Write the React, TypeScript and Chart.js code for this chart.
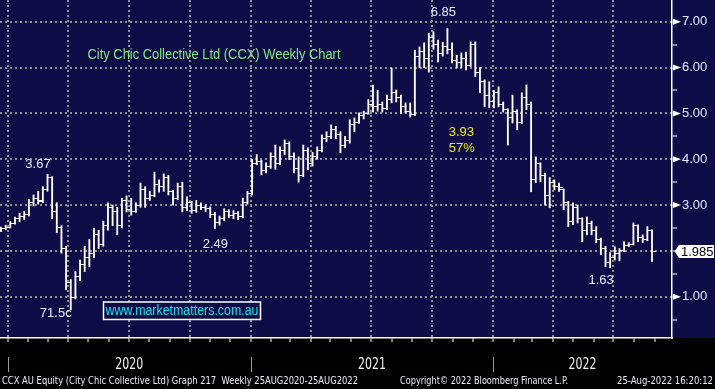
import React, { useEffect, useRef } from 'react';
import { Chart, registerables } from 'chart.js';

Chart.register(...registerables);

// ---------- data (weekly bars, first bar week of 22 Dec 2019) ----------
const firstBarDate = Date.UTC(2019, 11, 22);

const opens = [
  2.45, 2.48, 2.52, 2.60, 2.70, 2.74, 2.80, 3.05, 3.15, 3.10,
  3.35, 3.60, 2.85, 2.50, 2.05, 1.30, 0.98, 1.45, 1.70, 1.85,
  1.95, 2.35, 2.15, 2.55, 2.95, 2.85, 2.55, 3.10, 2.90, 2.85,
  2.98, 3.35, 3.15, 3.20, 3.45, 3.40, 3.60, 3.30, 3.15, 3.40,
  2.95, 3.05, 2.88, 3.00, 2.95, 2.92, 2.80, 2.62, 2.70, 2.85,
  2.78, 2.82, 2.75, 3.05, 3.25, 3.90, 3.95, 3.75, 3.85, 4.05,
  3.90, 4.20, 4.35, 4.05, 3.80, 3.65, 4.20, 3.90, 4.05, 4.20,
  4.45, 4.50, 4.65, 4.55, 4.30, 4.40, 4.75, 4.80, 4.95, 5.00,
  5.20, 5.15, 5.20, 5.10, 5.30, 5.45, 5.35, 5.15, 5.05, 4.98,
  6.25, 6.35, 6.20, 6.65, 6.50, 6.30, 6.45, 6.40, 6.15, 6.10,
  6.20, 6.05, 6.50, 5.90, 5.70, 5.40, 5.25, 5.45, 5.20, 5.08,
  4.90, 5.05, 4.80, 5.35, 5.20, 3.55, 3.90, 3.65, 3.20, 3.50,
  3.40, 3.33, 3.05, 2.65, 2.95, 2.70, 2.45, 2.60, 2.45, 2.25,
  2.05, 1.75, 1.85, 1.95, 2.00, 2.12, 2.15, 2.55, 2.30, 2.25, 2.45,
];
const highs = [
  2.52, 2.56, 2.64, 2.74, 2.82, 2.86, 3.12, 3.22, 3.30, 3.40,
  3.67, 3.62, 3.05, 2.55, 2.10, 1.38, 1.55, 1.80, 2.10, 2.25,
  2.50, 2.45, 2.65, 3.05, 3.00, 2.95, 3.15, 3.20, 3.15, 3.05,
  3.48, 3.40, 3.30, 3.72, 3.55, 3.68, 3.65, 3.32, 3.48, 3.50,
  3.18, 3.08, 3.10, 3.05, 3.00, 2.96, 2.84, 2.76, 2.92, 2.90,
  2.88, 2.86, 3.15, 3.30, 4.00, 4.10, 3.98, 3.92, 4.14, 4.31,
  4.27, 4.42, 4.38, 4.14, 4.05, 4.31, 4.25, 4.15, 4.27, 4.53,
  4.60, 4.75, 4.72, 4.60, 4.50, 4.86, 4.90, 5.01, 5.05, 5.30,
  5.62, 5.50, 5.25, 5.40, 5.99, 5.51, 5.40, 5.23, 5.23, 6.38,
  6.45, 6.54, 6.75, 6.78, 6.60, 6.55, 6.85, 6.54, 6.27, 6.32,
  6.34, 6.56, 6.56, 6.00, 5.73, 5.69, 5.50, 5.58, 5.25, 5.10,
  5.40, 5.08, 5.45, 5.62, 5.25, 4.05, 3.92, 3.70, 3.60, 3.55,
  3.48, 3.35, 3.08, 3.05, 3.00, 2.72, 2.74, 2.65, 2.53, 2.28,
  2.10, 1.96, 2.09, 2.05, 2.20, 2.18, 2.61, 2.57, 2.35, 2.53, 2.46,
];
const lows = [
  2.42, 2.46, 2.50, 2.58, 2.64, 2.68, 2.76, 2.98, 3.02, 3.05,
  3.30, 2.70, 2.40, 1.95, 1.15, 0.715, 0.95, 1.35, 1.55, 1.65,
  1.85, 2.05, 2.10, 2.45, 2.55, 2.35, 2.50, 2.85, 2.78, 2.84,
  2.95, 2.95, 3.10, 3.18, 3.28, 3.30, 3.22, 3.00, 3.12, 2.85,
  2.88, 2.82, 2.84, 2.90, 2.86, 2.72, 2.49, 2.56, 2.66, 2.72,
  2.70, 2.68, 2.72, 3.02, 3.22, 3.88, 3.66, 3.70, 3.80, 3.78,
  3.88, 4.10, 3.99, 3.70, 3.50, 3.62, 3.77, 3.85, 4.00, 4.16,
  4.38, 4.45, 4.45, 4.14, 4.25, 4.35, 4.60, 4.78, 4.88, 4.98,
  5.03, 5.05, 5.03, 5.08, 5.23, 5.25, 5.00, 5.01, 4.92, 4.95,
  6.00, 6.00, 5.90, 6.40, 6.12, 6.25, 6.30, 6.10, 5.99, 6.00,
  5.95, 6.02, 5.80, 5.45, 5.15, 5.12, 5.12, 5.14, 5.03, 4.31,
  4.79, 4.64, 4.78, 5.08, 3.29, 3.49, 3.51, 3.00, 2.94, 3.33,
  3.30, 2.90, 2.53, 2.57, 2.61, 2.20, 2.35, 2.35, 2.18, 1.92,
  1.66, 1.63, 1.80, 1.78, 1.98, 2.09, 2.13, 2.20, 2.18, 2.22, 1.77,
];
const closes = [
  2.48, 2.52, 2.60, 2.70, 2.76, 2.80, 3.05, 3.15, 3.08, 3.35,
  3.60, 2.85, 2.50, 2.05, 1.30, 0.98, 1.45, 1.70, 1.85, 1.95,
  2.35, 2.15, 2.55, 2.95, 2.85, 2.55, 3.10, 2.90, 2.85, 2.98,
  3.35, 3.15, 3.20, 3.45, 3.40, 3.60, 3.30, 3.15, 3.40, 2.95,
  3.05, 2.88, 3.00, 2.95, 2.92, 2.80, 2.62, 2.70, 2.85, 2.78,
  2.82, 2.75, 3.05, 3.25, 3.90, 3.95, 3.75, 3.85, 4.05, 3.90,
  4.20, 4.35, 4.05, 3.80, 3.65, 4.20, 3.90, 4.05, 4.20, 4.45,
  4.50, 4.65, 4.55, 4.30, 4.40, 4.75, 4.80, 4.95, 5.00, 5.20,
  5.15, 5.20, 5.10, 5.30, 5.45, 5.35, 5.15, 5.05, 4.98, 6.25,
  6.35, 6.20, 6.65, 6.50, 6.30, 6.45, 6.40, 6.15, 6.10, 6.20,
  6.05, 6.50, 5.90, 5.70, 5.40, 5.25, 5.45, 5.20, 5.08, 4.90,
  5.05, 4.80, 5.35, 5.20, 3.55, 3.90, 3.65, 3.20, 3.50, 3.40,
  3.38, 3.05, 2.65, 2.95, 2.70, 2.45, 2.60, 2.45, 2.25, 2.05,
  1.75, 1.85, 1.95, 2.00, 2.12, 2.15, 2.55, 2.30, 2.25, 2.45, 1.985,
];

const yTickValues = [0.5, 1, 1.5, 2, 2.5, 3, 3.5, 4, 4.5, 5, 5.5, 6, 6.5, 7];
const yLabelValues = [1, 3, 4, 5, 6, 7];
const years = [2020, 2021, 2022];
const lastPrice = 1.985;

const barAnnotations = [
  { text: '3.67', bar: 10, at: 'high', dx: -9.5, dy: -10 },
  { text: '71.5c', bar: 15, at: 'low', dx: -15, dy: 4 },
  { text: '2.49', bar: 46, at: 'low', dx: 0.5, dy: 16 },
  { text: '6.85', bar: 96, at: 'high', dx: -4, dy: -16.5 },
  { text: '1.63', bar: 131, at: 'low', dx: -9, dy: 13 },
];
const moveAnnotations = [
  { text: '3.93', x: 99.0, y: 4.59 },
  { text: '57%', x: 99.1, y: 4.24 },
];

const titleText = 'City Chic Collective Ltd (CCX) Weekly Chart';
const siteText = 'www.marketmatters.com.au';
const footerLeft = 'CCX AU Equity (City Chic Collective Ltd) Graph 217  Weekly 25AUG2020-25AUG2022';
const footerMid = 'Copyright\u00A9 2022 Bloomberg Finance L.P.';
const footerRight = '25-Aug-2022 16:20:12';

// ---------- helpers ----------
const WEEK_MS = 7 * 24 * 3600 * 1000;
const weekOf = (y: number, m: number, d = 1) => (Date.UTC(y, m, d) - firstBarDate) / WEEK_MS;

const X_MIN = -0.215;
const X_MAX = 144.3;
const Y_MIN = 0.099;
const Y_MAX = 7.474;

const NAVY = '#0e0c46';
const GRID = '#8e8e8e';
const LABEL = '#e6ecff';
const SANS = '"Liberation Sans", Arial, sans-serif';
const NARROW = '"Liberation Sans Narrow", "DejaVu Sans Condensed", "Liberation Sans", sans-serif';

const monthTicks: { value: number; quarter: boolean }[] = [];
for (let y = 2020; y <= 2022; y++) {
  for (let m = 0; m < 12; m++) {
    const v = weekOf(y, m);
    if (v > X_MAX) break;
    monthTicks.push({ value: v, quarter: m % 3 === 0 });
  }
}

function fitText(ctx: CanvasRenderingContext2D, text: string, x: number, y: number, width: number, font: string, color: string) {
  ctx.save();
  ctx.font = font;
  ctx.fillStyle = color;
  ctx.textAlign = 'left';
  ctx.textBaseline = 'middle';
  const w = ctx.measureText(text).width;
  ctx.translate(x, y);
  ctx.scale(width / w, 1);
  ctx.fillText(text, 0, 0);
  ctx.restore();
}

export default function App() {
  const ref = useRef<HTMLCanvasElement>(null);

  useEffect(() => {
    const canvas = ref.current;
    if (!canvas) return;

    const mkTick = (left: boolean) => {
      const c = document.createElement('canvas');
      c.width = 7;
      c.height = 1;
      const g = c.getContext('2d')!;
      g.fillStyle = '#ffffff';
      g.fillRect(left ? 0 : 4, 0, 3, 1);
      return c;
    };
    const openImg = mkTick(true);
    const closeImg = mkTick(false);

    const decor = {
      id: 'decor',
      beforeDraw(chart: any) {
        const { ctx, chartArea } = chart;
        ctx.save();
        ctx.fillStyle = '#000';
        ctx.fillRect(0, 0, chart.width, chart.height);
        ctx.fillStyle = NAVY;
        ctx.fillRect(0, 0, chart.width, chartArea.bottom);
        ctx.restore();
      },
      afterDraw(chart: any) {
        const { ctx, chartArea } = chart;
        const xs = chart.scales.x;
        const ys = chart.scales.y;
        const R = chartArea.right;
        const B = chartArea.bottom;
        ctx.save();

        // right-axis triangles
        ctx.fillStyle = '#ffffff';
        yLabelValues.forEach((v) => {
          const py = ys.getPixelForValue(v);
          ctx.beginPath();
          ctx.moveTo(R + 1, py - 3);
          ctx.lineTo(R + 9, py);
          ctx.lineTo(R + 1, py + 3);
          ctx.closePath();
          ctx.fill();
        });

        // last price box
        const lp = ys.getPixelForValue(lastPrice);
        ctx.beginPath();
        ctx.moveTo(R + 2.5, lp);
        ctx.lineTo(R + 7, lp - 6.5);
        ctx.lineTo(chart.width - 1, lp - 6.5);
        ctx.lineTo(chart.width - 1, lp + 6.5);
        ctx.lineTo(R + 7, lp + 6.5);
        ctx.closePath();
        ctx.fillStyle = '#ffffff';
        ctx.fill();
        ctx.fillStyle = '#000';
        ctx.font = '13px ' + SANS;
        ctx.textBaseline = 'middle';
        ctx.textAlign = 'left';
        ctx.fillText(lastPrice.toFixed(3), R + 9, lp + 0.5);

        // bar annotations
        ctx.font = '13px ' + SANS;
        ctx.textAlign = 'center';
        ctx.textBaseline = 'middle';
        ctx.fillStyle = LABEL;
        barAnnotations.forEach((a) => {
          const px = xs.getPixelForValue(a.bar);
          const val = a.at === 'high' ? highs[a.bar] : lows[a.bar];
          const py = ys.getPixelForValue(val);
          ctx.fillText(a.text, px + a.dx, py + a.dy);
        });
        ctx.fillStyle = '#e8e81a';
        moveAnnotations.forEach((a) => {
          ctx.fillText(a.text, xs.getPixelForValue(a.x), ys.getPixelForValue(a.y));
        });

        // title
        fitText(ctx, titleText, 87.5, 55, 253, '14px ' + SANS, '#82e882');

        // website box
        ctx.fillStyle = NAVY;
        ctx.fillRect(103.5, 302, 157, 17.5);
        ctx.strokeStyle = '#ffffff';
        ctx.lineWidth = 1.5;
        ctx.strokeRect(103.5, 302, 157, 17.5);
        fitText(ctx, siteText, 105.5, 311, 153, '14px ' + SANS, '#17e3f0');

        // year separators and labels
        ctx.strokeStyle = '#9a9a9a';
        ctx.lineWidth = 1;
        years.forEach((yr, k) => {
          const start = weekOf(yr, 0);
          const end = k < years.length - 1 ? weekOf(years[k + 1], 0) : X_MAX;
          const sx = Math.round(xs.getPixelForValue(start)) + 0.5;
          ctx.beginPath();
          ctx.moveTo(sx, B + 19);
          ctx.lineTo(sx, B + 34);
          ctx.stroke();
          const mx = xs.getPixelForValue((start + end) / 2);
          ctx.save();
          ctx.font = '15px ' + NARROW;
          const w = ctx.measureText(String(yr)).width;
          ctx.translate(mx - 14, B + 27);
          ctx.scale(28 / w, 1);
          ctx.fillStyle = '#f2f2f2';
          ctx.textAlign = 'left';
          ctx.textBaseline = 'middle';
          ctx.fillText(String(yr), 0, 0);
          ctx.restore();
        });

        // footer
        const fy = B + 43.5;
        fitText(ctx, footerLeft, 2, fy, 356, '11px ' + NARROW, '#e8ecf4');
        fitText(ctx, footerMid, 400, fy, 168, '11px ' + NARROW, '#e8ecf4');
        fitText(ctx, footerRight, 617, fy, 96, '11px ' + NARROW, '#e8ecf4');

        ctx.restore();
      },
    };

    const chart = new Chart(canvas, {
      type: 'bar',
      data: {
        datasets: [
          {
            type: 'bar',
            data: highs.map((h, i) => ({ x: i, y: [lows[i], h] })) as any,
            backgroundColor: '#ffffff',
            borderWidth: 0,
            borderSkipped: false,
            barThickness: 1.2,
            grouped: false,
          } as any,
          {
            type: 'scatter',
            data: opens.map((o, i) => ({ x: i, y: o })),
            pointStyle: openImg as any,
            pointRadius: 2,
            showLine: false,
          } as any,
          {
            type: 'scatter',
            data: closes.map((c, i) => ({ x: i, y: c })),
            pointStyle: closeImg as any,
            pointRadius: 2,
            showLine: false,
          } as any,
        ],
      },
      options: {
        responsive: false,
        animation: false,
        devicePixelRatio: 1,
        events: [],
        layout: { padding: 0, autoPadding: false },
        plugins: {
          legend: { display: false },
          tooltip: { enabled: false },
          title: { display: false },
        },
        scales: {
          x: {
            type: 'linear',
            position: 'bottom',
            min: X_MIN,
            max: X_MAX,
            offset: false,
            afterBuildTicks: (s: any) => {
              s.ticks = monthTicks.map((t) => ({ value: t.value }));
            },
            afterFit: (s: any) => {
              s.height = 51;
              s.paddingLeft = 0;
              s.paddingRight = 0;
            },
            ticks: { display: false },
            grid: {
              offset: false,
              drawOnChartArea: true,
              drawTicks: true,
              tickLength: 4,
              lineWidth: 2,
              color: (c: any) => (monthTicks[c.index] && monthTicks[c.index].quarter ? GRID : 'rgba(0,0,0,0)'),
              tickColor: '#ffffff',
              tickWidth: 1,
              tickBorderDash: [],
            },
            border: { display: true, color: '#ffffff', width: 1.5, dash: [2, 3] },
          } as any,
          y: {
            type: 'linear',
            position: 'right',
            min: Y_MIN,
            max: Y_MAX,
            afterBuildTicks: (s: any) => {
              s.ticks = yTickValues.map((v) => ({ value: v }));
            },
            afterFit: (s: any) => {
              s.width = 43;
              s.paddingTop = 0;
              s.paddingBottom = 0;
            },
            ticks: {
              padding: 5,
              color: LABEL,
              font: { family: SANS, size: 13 },
              callback: (v: any) => (yLabelValues.includes(Number(v)) ? Number(v).toFixed(2) : ''),
            },
            grid: {
              drawOnChartArea: true,
              drawTicks: true,
              tickLength: 5,
              lineWidth: 2,
              color: (c: any) => (c.tick && Number.isInteger(c.tick.value) ? GRID : 'rgba(0,0,0,0)'),
              tickColor: '#ffffff',
              tickWidth: 1,
              tickBorderDash: [],
            },
            border: { display: true, color: '#ffffff', width: 1.5, dash: [2, 3] },
          } as any,
        },
      } as any,
      plugins: [decor as any],
    });

    return () => chart.destroy();
  }, []);

  return (
    <div style={{ position: 'fixed', left: 0, top: 0, width: 715, height: 389, background: '#000' }}>
      <canvas ref={ref} width={715} height={389} style={{ display: 'block', width: 715, height: 389 }} />
    </div>
  );
}
